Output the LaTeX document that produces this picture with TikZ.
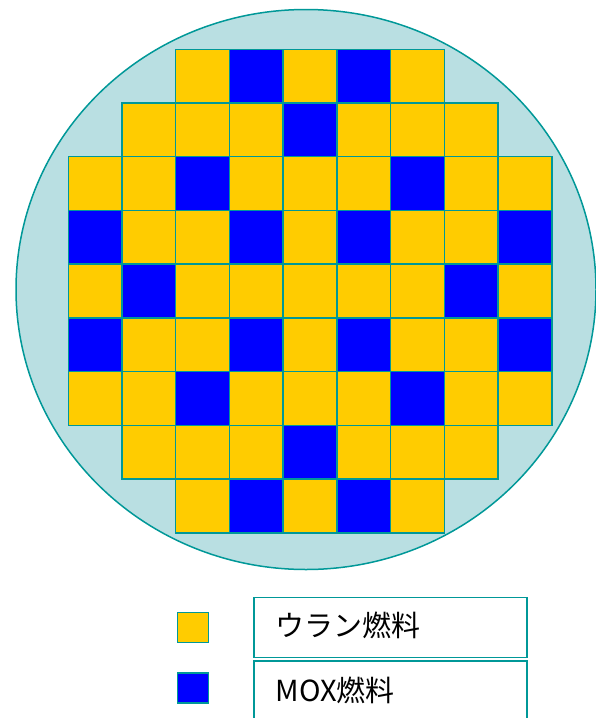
\documentclass[tikz,border=0pt]{standalone}
\usepackage{fontspec}
\newfontfamily\jp{Noto Sans CJK JP}
\definecolor{tealline}{RGB}{0,152,152}
\definecolor{poolfill}{RGB}{185,223,226}
\definecolor{uran}{RGB}{255,204,0}
\definecolor{mox}{RGB}{0,0,255}
\tikzset{
  edge/.style={draw=tealline, line width=1.5pt},
  ucell/.style={edge, fill=uran},
  mcell/.style={edge, fill=mox},
  legbox/.style={edge, fill=white, rectangle, inner sep=0pt, minimum width=272.7pt, minimum height=60pt},
  legtext/.style={font=\jp\fontsize{29}{32}\selectfont, text=black, inner sep=0pt},
}
\begin{document}
\begin{tikzpicture}[x=1pt, y=-1pt]
\useasboundingbox (0,0) rectangle (596,718);
% pool
\draw[edge, fill=poolfill] (306,289.5) ellipse [x radius=290, y radius=280];
% grid
\def\cs{53.72}
\def\gx{68.3}
\def\gy{49.3}
\foreach \r/\a/\b in {0/2/6,1/1/7,2/0/8,3/0/8,4/0/8,5/0/8,6/0/8,7/1/7,8/2/6}{
  \foreach \c in {\a,...,\b}{
    \draw[ucell] (\gx+\c*\cs, \gy+\r*\cs) rectangle ++(\cs,\cs);
  }
}
\foreach \c/\r in {3/0,5/0,4/1,2/2,6/2,0/3,3/3,5/3,8/3,1/4,7/4,0/5,3/5,5/5,8/5,2/6,6/6,4/7,3/8,5/8}{
  \draw[mcell] (\gx+\c*\cs, \gy+\r*\cs) rectangle ++(\cs,\cs);
}
% legend
\node[ucell, rectangle, inner sep=0pt, minimum width=31pt, minimum height=30pt] (uk) at (193.2,627.5) {};
\node[mcell, rectangle, inner sep=0pt, minimum width=31pt, minimum height=30pt] (mk) at (193.2,688) {};
\node[legbox, anchor=north west] (ub) at (253.3,596.7) {};
\node[legbox, anchor=north west] (mb) at (253.3,660) {};
\node[legtext, anchor=west] (ut) at ([xshift=22pt,yshift=2pt]ub.west) {ウラン燃料};
\node[legtext, anchor=west] (mt) at ([xshift=22pt,yshift=0pt]mb.west) {MOX燃料};
\end{tikzpicture}
\end{document}
